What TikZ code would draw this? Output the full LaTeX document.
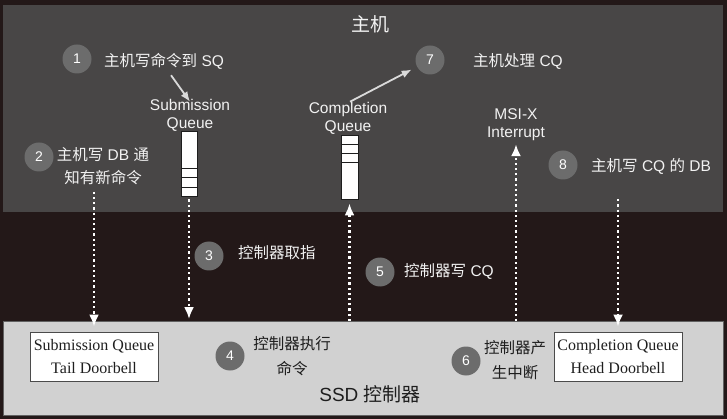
\documentclass[tikz,border=0pt]{standalone}
\usepackage{fontspec}
\setmainfont{Liberation Sans}
\newfontfamily\cjk{Noto Sans CJK SC}
\newfontfamily\serifbox{Liberation Serif}
\usetikzlibrary{arrows.meta,calc}
\definecolor{frame}{HTML}{231818}
\definecolor{hostbg}{HTML}{484646}
\definecolor{ssdbg}{HTML}{D1D1D1}
\definecolor{badge}{HTML}{6C6C6C}
\definecolor{ink}{HTML}{1E1E1E}
\definecolor{paper}{HTML}{F2F2F2}
\newcommand{\zh}[1]{{\cjk #1}}
\tikzset{
  >=Latex,
  every node/.style={inner sep=0pt},
  region/.style={minimum width=720pt,anchor=north west},
  num/.style={circle,fill=badge,minimum size=29pt,text=white,font=\fontsize{14}{14}\selectfont},
  hosttext/.style={text=paper,font=\fontsize{15.5}{18}\selectfont,align=center},
  ssdtext/.style={text=ink,font=\fontsize{15.5}{25}\selectfont,align=center},
  queue/.style={draw=ink,fill=white,line width=1pt},
  slot/.style={draw=ink,line width=1.6pt},
  doorbell/.style={draw=ink!80,fill=white,line width=1pt,minimum width=128pt,minimum height=49pt,align=center,font=\serifbox\fontsize{16}{23.5}\selectfont,text=ink},
  dotarrow/.style={-{Latex[length=12pt,width=10pt]},draw=white,line width=2.2pt,dash pattern=on 2.2pt off 3pt},
  solidarrow/.style={-{Latex[length=10pt,width=8pt]},draw=paper!90!black,line width=1.8pt},
}

\begin{document}
\begin{tikzpicture}[x=1pt,y=-1pt]
  \fill[frame] (0,0) rectangle (727,419);
  \node[region,fill=hostbg,minimum height=207pt] (host) at (3,5) {};
  \node[region,fill=ssdbg,draw=ink!70,line width=0.8pt,minimum height=94pt] (ssd) at (3,321) {};

  \node[text=paper,font=\cjk\fontsize{19}{19}\selectfont] (hosttitle) at (370,24) {主机};
  \node[text=ink,font=\fontsize{19}{19}\selectfont] (ssdtitle) at (370,394) {SSD \zh{控制器}};

  % queues in host memory
  \node[queue,minimum width=16pt,minimum height=65pt] (sq) at (189,164.5) {};
  \foreach \d in {10,20,29} \draw[slot] ($(sq.south west)+(0,-\d)$) -- ($(sq.south east)+(0,-\d)$);
  \node[queue,minimum width=17pt,minimum height=64pt] (cq) at (349.5,168) {};
  \foreach \d in {9,18,27} \draw[slot] ($(cq.north west)+(0,\d)$) -- ($(cq.north east)+(0,\d)$);
  \node[hosttext] (sqlabel) at (190,115) {Submission\\Queue};
  \node[hosttext] (cqlabel) at (348,118) {Completion\\Queue};
  \node[hosttext] (msilabel) at (516,125) {MSI-X\\Interrupt};

  % steps
  \node[num] (n1) at (77,59) {1};
  \node[hosttext,anchor=west] (t1) at (104,61) {\zh{主机写命令到} SQ};
  \node[num] (n2) at (39,157) {2};
  \node[hosttext,font=\fontsize{15.5}{23}\selectfont] (t2) at (103,166) {\zh{主机写} DB \zh{通}\\\zh{知有新命令}};
  \node[num] (n3) at (209,256) {3};
  \node[hosttext,anchor=west] (t3) at (238,253) {\zh{控制器取指}};
  \node[num] (n4) at (230,356) {4};
  \node[ssdtext] (t4) at (292,356) {\zh{控制器执行}\\\zh{命令}};
  \node[num] (n5) at (380,272) {5};
  \node[hosttext,anchor=west] (t5) at (404,271) {\zh{控制器写} CQ};
  \node[num] (n6) at (466,361) {6};
  \node[ssdtext] (t6) at (515,360) {\zh{控制器产}\\\zh{生中断}};
  \node[num] (n7) at (430,60) {7};
  \node[hosttext,anchor=west] (t7) at (473,61) {\zh{主机处理} CQ};
  \node[num] (n8) at (563,165) {8};
  \node[hosttext,anchor=west] (t8) at (591,166) {\zh{主机写} CQ \zh{的} DB};

  % doorbell registers
  \node[doorbell] (sqdb) at (94,356.5) {Submission Queue\\Tail Doorbell};
  \node[doorbell] (cqdb) at (618,356.5) {Completion Queue\\Head Doorbell};

  \draw[solidarrow] ([xshift=7pt,yshift=-6pt]t1.south) -- ([yshift=-3pt]sqlabel.north);
  \draw[solidarrow,shorten >=6pt] ([xshift=2pt]cqlabel.north) -- (n7);
  \draw[dotarrow,shorten <=7pt] (sqdb.north |- t2.south) -- ([yshift=5pt]sqdb.north);
  \draw[dotarrow,shorten <=2pt,shorten >=2pt] (sq.south) -- (sq.south |- ssd.north);
  \draw[dotarrow,shorten >=3pt] (cq.south |- ssd.north) -- (cq.south);
  \draw[dotarrow,shorten >=3pt] (msilabel.south |- ssd.north) -- (msilabel.south);
  \draw[dotarrow,shorten <=25pt] (cqdb.north |- t8.south) -- ([yshift=5pt]cqdb.north);
\end{tikzpicture}
\end{document}
